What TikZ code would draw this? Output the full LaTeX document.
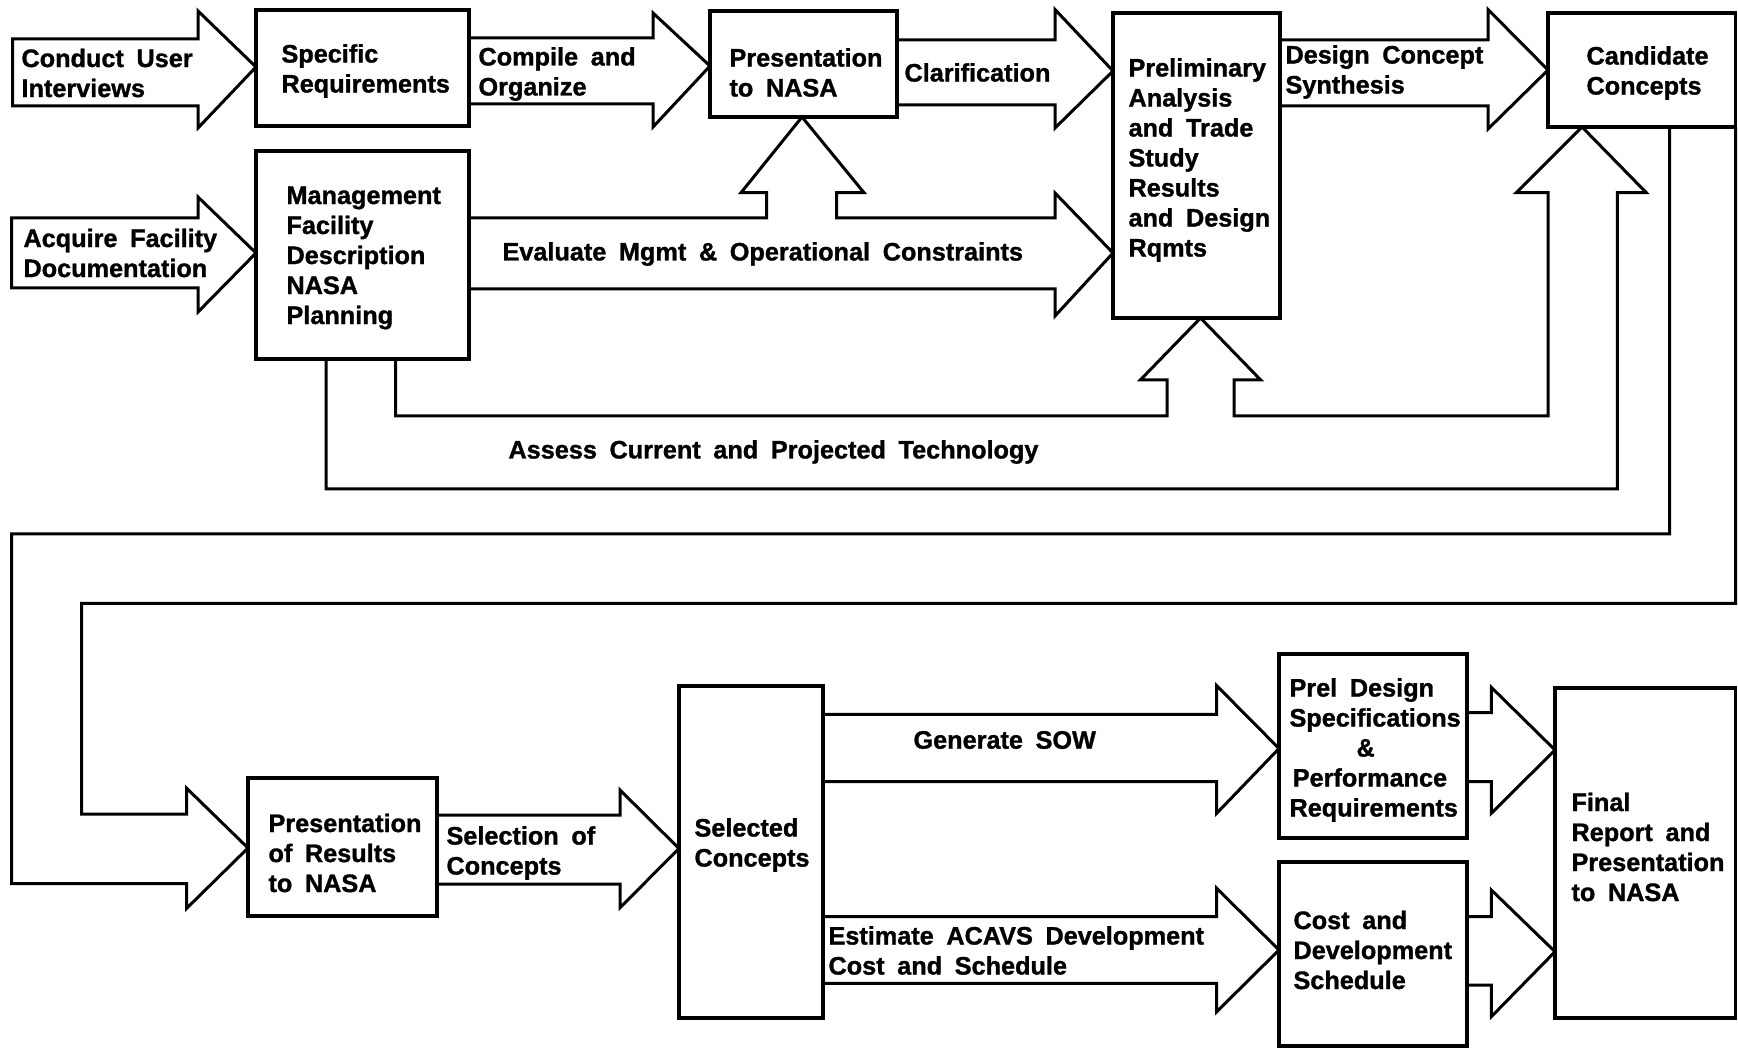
\documentclass[tikz,border=0pt]{standalone}
\usepackage{fontspec}
\setmainfont{Liberation Sans}[WordSpace=1.8, BoldFeatures={FakeBold=1.2}]
\begin{document}
\begin{tikzpicture}[x=0.4pt,y=-0.4pt,
  box/.style={draw, line width=1.5pt, inner sep=0pt},
  blk/.style={draw, line width=1.2pt, line join=miter},
  txt/.style={font=\bfseries\fontsize{10.1}{12}\selectfont, align=left, inner sep=0pt, anchor=west}]
\fill[white] (0,0) rectangle (1738,1050);
\useasboundingbox (0,0) rectangle (1738,1050);

% boxes
\node[box, minimum width=85.2pt, minimum height=46.4pt] (spec) at (362.5,68) {};
\node[box, minimum width=85.2pt, minimum height=83.2pt] (mgmt) at (362.5,255) {};
\node[box, minimum width=74.8pt, minimum height=42.4pt] (pres) at (803.5,64) {};
\node[box, minimum width=66.8pt, minimum height=122pt] (prelim) at (1196.5,165.5) {};
\node[box, minimum width=75pt, minimum height=45.6pt] (cand) at (1641.75,70) {};
\node[box, minimum width=75.6pt, minimum height=55.2pt] (presres) at (342.5,847) {};
\node[box, minimum width=57.6pt, minimum height=132.8pt] (sel) at (751,852) {};
\node[box, minimum width=75.2pt, minimum height=73.6pt] (preldes) at (1373,746) {};
\node[box, minimum width=75.2pt, minimum height=73.6pt] (cost) at (1373,954) {};
\node[box, minimum width=72.2pt, minimum height=132pt] (final) at (1645.25,853) {};

% block arrows, top row
\draw[blk] (12.6,39) -- (198,39) -- (198,11) -- (256,67) -- (198,128) -- (198,106) -- (12.6,106) -- cycle;
\draw[blk] (11.5,218) -- (198,218) -- (198,197) -- (256,253) -- (198,312) -- (198,288) -- (11.5,288) -- cycle;
\draw[blk] (469,38) -- (653,38) -- (653,13) -- (710,66) -- (653,127) -- (653,104) -- (469,104);
\draw[blk] (897,40) -- (1055,40) -- (1055,9.5) -- (1113,71) -- (1055,128) -- (1055,105) -- (897,105);
\draw[blk] (1280,40) -- (1488,40) -- (1488,9.5) -- (1548,70) -- (1488,129) -- (1488,106) -- (1280,106);

% evaluate band with up arrow to presentation
\draw[blk] (469,218) -- (766.5,218) -- (766.5,192.7) -- (741,192.7) -- (802,117) -- (864,192.7) -- (836.5,192.7) -- (836.5,218) -- (1055,218) -- (1055,193) -- (1113,253) -- (1055,316) -- (1055,289) -- (469,289);

% assess band
\draw[blk] (395.7,359) -- (395.7,416) -- (1167,416) -- (1167,380) -- (1140.3,380) -- (1200.5,318) -- (1260.7,380) -- (1234,380) -- (1234,416) -- (1548,416) -- (1548,192.7) -- (1516.3,192.7) -- (1582,127) -- (1646.3,192.7) -- (1617.3,192.7) -- (1617.3,489) -- (326,489) -- (326,359);

% loop band
\draw[blk] (1669.7,127) -- (1669.7,534) -- (11.7,534) -- (11.7,883.5) -- (186.7,883.5) -- (186.7,908.3) -- (248,848) -- (186.7,788.3) -- (186.7,814) -- (81.7,814) -- (81.7,603.3) -- (1735.5,603.3) -- (1735.5,127);

% bottom row arrows
\draw[blk] (437,815) -- (620,815) -- (620,790) -- (679,848.5) -- (620,907.7) -- (620,884) -- (437,884);
\draw[blk] (823,714.3) -- (1216.7,714.3) -- (1216.7,685.7) -- (1279,748.5) -- (1216.7,813.3) -- (1216.7,781.7) -- (823,781.7);
\draw[blk] (823,916.7) -- (1216.7,916.7) -- (1216.7,888.3) -- (1279,950) -- (1216.7,1011.7) -- (1216.7,983.3) -- (823,983.3);
\draw[blk] (1467,712.7) -- (1491.3,712.7) -- (1491.3,687.3) -- (1555,750) -- (1491.3,813.3) -- (1491.3,781.7) -- (1467,781.7);
\draw[blk] (1467,916.7) -- (1491.3,916.7) -- (1491.3,890) -- (1555,951.7) -- (1491.3,1016.7) -- (1491.3,985) -- (1467,985);

% texts
\node[txt] (t-conduct) at (21,73) {Conduct User\\Interviews};
\node[txt] (t-spec) at (281,71) {Specific\\Requirements};
\node[txt] (t-compile) at (478,74) {Compile and\\Organize};
\node[txt] (t-acquire) at (23,253) {Acquire Facility\\Documentation};
\node[txt] (t-mgmt) at (286,258) {Management\\Facility\\Description\\NASA\\Planning};
\node[txt] (t-eval) at (502,254) {Evaluate Mgmt \& Operational Constraints};
\node[txt] (t-pres) at (729,72.5) {Presentation\\to NASA};
\node[txt] (t-clar) at (904,72.5) {Clarification};
\node[txt] (t-prelim) at (1128,160) {Preliminary\\Analysis\\and Trade\\Study\\Results\\and Design\\Rqmts};
\node[txt] (t-design) at (1285,72) {Design Concept\\Synthesis};
\node[txt] (t-cand) at (1586,73) {Candidate\\Concepts};
\node[txt] (t-assess) at (508,452) {Assess Current and Projected Technology};
\node[txt] (t-presres) at (268,853) {Presentation\\of Results\\to NASA};
\node[txt] (t-selection) at (446,853) {Selection of\\Concepts};
\node[txt] (t-sel) at (694,845) {Selected\\Concepts};
\node[txt] (t-gen) at (913,740) {Generate SOW};
\node[txt] (t-est) at (828,950.5) {Estimate ACAVS Development\\Cost and Schedule};
\node[txt] (t-preldes) at (1289,750) {Prel Design\\Specifications\\\hspace*{26.8pt}\&\\\hspace*{1.3pt}Performance\\Requirements};
\node[txt] (t-cost) at (1293,950) {Cost and\\Development\\Schedule};
\node[txt] (t-final) at (1571,847) {Final\\Report and\\Presentation\\to NASA};
\end{tikzpicture}
\end{document}
